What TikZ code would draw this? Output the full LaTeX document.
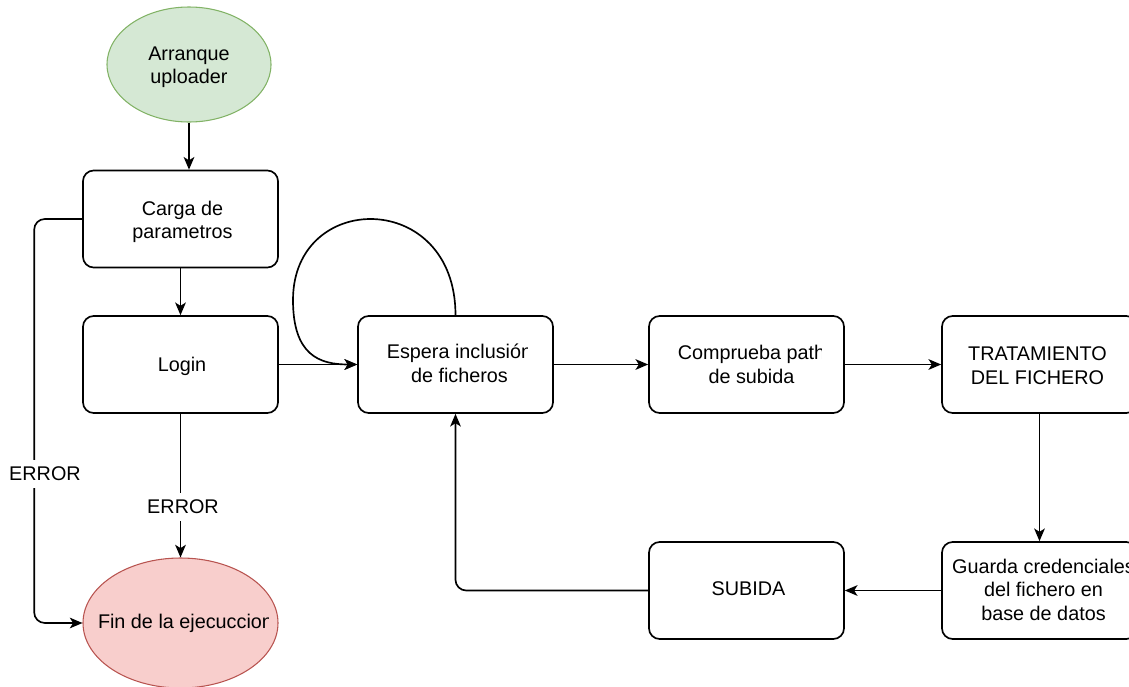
\documentclass[tikz,border=0pt]{standalone}
\usepackage{fontspec}
\setmainfont{Liberation Sans}
\usetikzlibrary{shapes.geometric,arrows.meta,calc}
\definecolor{startfill}{HTML}{D5E8D4}
\definecolor{startline}{HTML}{82B366}
\definecolor{endfill}{HTML}{F8CECC}
\definecolor{endline}{HTML}{B85450}
\begin{document}
\begin{tikzpicture}[x=0.75pt,y=-0.75pt,
  every node/.style={font=\fontsize{14.85}{17.6}\selectfont, align=center, text=black},
  stepbox/.style={draw, rounded corners=8pt, line width=1.25pt,
    minimum width=146.25pt, minimum height=72.75pt, inner sep=0pt},
  terminal/.style={ellipse, draw, line width=0.8pt, inner sep=0pt},
  flow/.style={line width=1.25pt, -{Stealth[length=9.5pt,width=8pt,inset=2.5pt]}},
  tag/.style={fill=white, inner xsep=1pt, inner ysep=5pt}]
\useasboundingbox (0,0) rectangle (1129,686);

% start and end of the run
\node[terminal, fill=startfill, draw=startline,
  minimum width=123pt, minimum height=86.25pt] (start) at (189,64.5) {};
\node (starttext) at ($(start.center)+(0,3)$) {Arranque\\uploader};
\node[terminal, fill=endfill, draw=endline,
  minimum width=146.25pt, minimum height=97.5pt] (fin) at (180.5,623) {};
\begin{scope}
  \clip (fin.west |- fin.north) rectangle (268.5,690);
  \node (fintext) at ($(fin.center)+(5,0)$) {Fin de la ejecuccion};
\end{scope}

% process steps
\node[stepbox] (carga) at (180.5,219) {};
\node (cargatext) at ($(carga.center)+(2,3)$) {Carga de\\parametros};
\node[stepbox] (login) at (180.5,364.5) {};
\node (logintext) at ($(login.center)+(1.5,2)$) {Login};

\node[stepbox] (espera) at (455.5,364.5) {};
\begin{scope}
  \clip (espera.north west) rectangle (527,413);
  \node (esperatext) at ($(espera.center)+(4,-1)$) {Espera inclusión\\de ficheros};
\end{scope}

\node[stepbox] (comprueba) at (746.5,364.5) {};
\begin{scope}
  \clip (comprueba.north west) rectangle (821,413);
  \node (compruebatext) at ($(comprueba.center)+(5,0)$) {Comprueba path\\de subida};
\end{scope}

\node[stepbox] (trat) at (1039.5,364.5) {};
\node (trattext) at ($(trat.center)+(-2,1)$) {TRATAMIENTO\\DEL FICHERO};

\node[stepbox] (guarda) at (1039.5,590.5) {};
\node (guardatext) at ($(guarda.center)+(4,-1)$) {Guarda credenciales\\del fichero en\\base de datos};

\node[stepbox] (subida) at (746.5,590.5) {};
\node (subidatext) at ($(subida.center)+(2,-2)$) {SUBIDA};

% connectors
\draw[flow] (start.south) -- (start.south |- carga.north);
\draw[flow] (carga.south) -- (login.north);
\draw[flow, rounded corners=8pt] (carga.west) -- ++(-48,0) |- (fin.west);
\draw[flow] (login.south) -- (fin.north);
\draw[flow] (login.east) -- (espera.west);
\coordinate (loopleft) at (293,300);
\draw[flow] (espera.north) .. controls +(0,-126) and +(0,-110) .. (loopleft)
  .. controls +(0,55) and +(-38,0) .. (espera.west);
\draw[flow] (espera.east) -- (comprueba.west);
\draw[flow] (comprueba.east) -- (trat.west);
\draw[flow] (trat.south) -- (guarda.north);
\draw[flow] (guarda.west) -- (subida.east);
\draw[flow, rounded corners=8pt] (subida.west) -| (espera.south);

% edge labels
\node[tag] (errcarga) at (45,474) {ERROR};
\node[tag] (errlogin) at (183,507) {ERROR};
\end{tikzpicture}
\end{document}
